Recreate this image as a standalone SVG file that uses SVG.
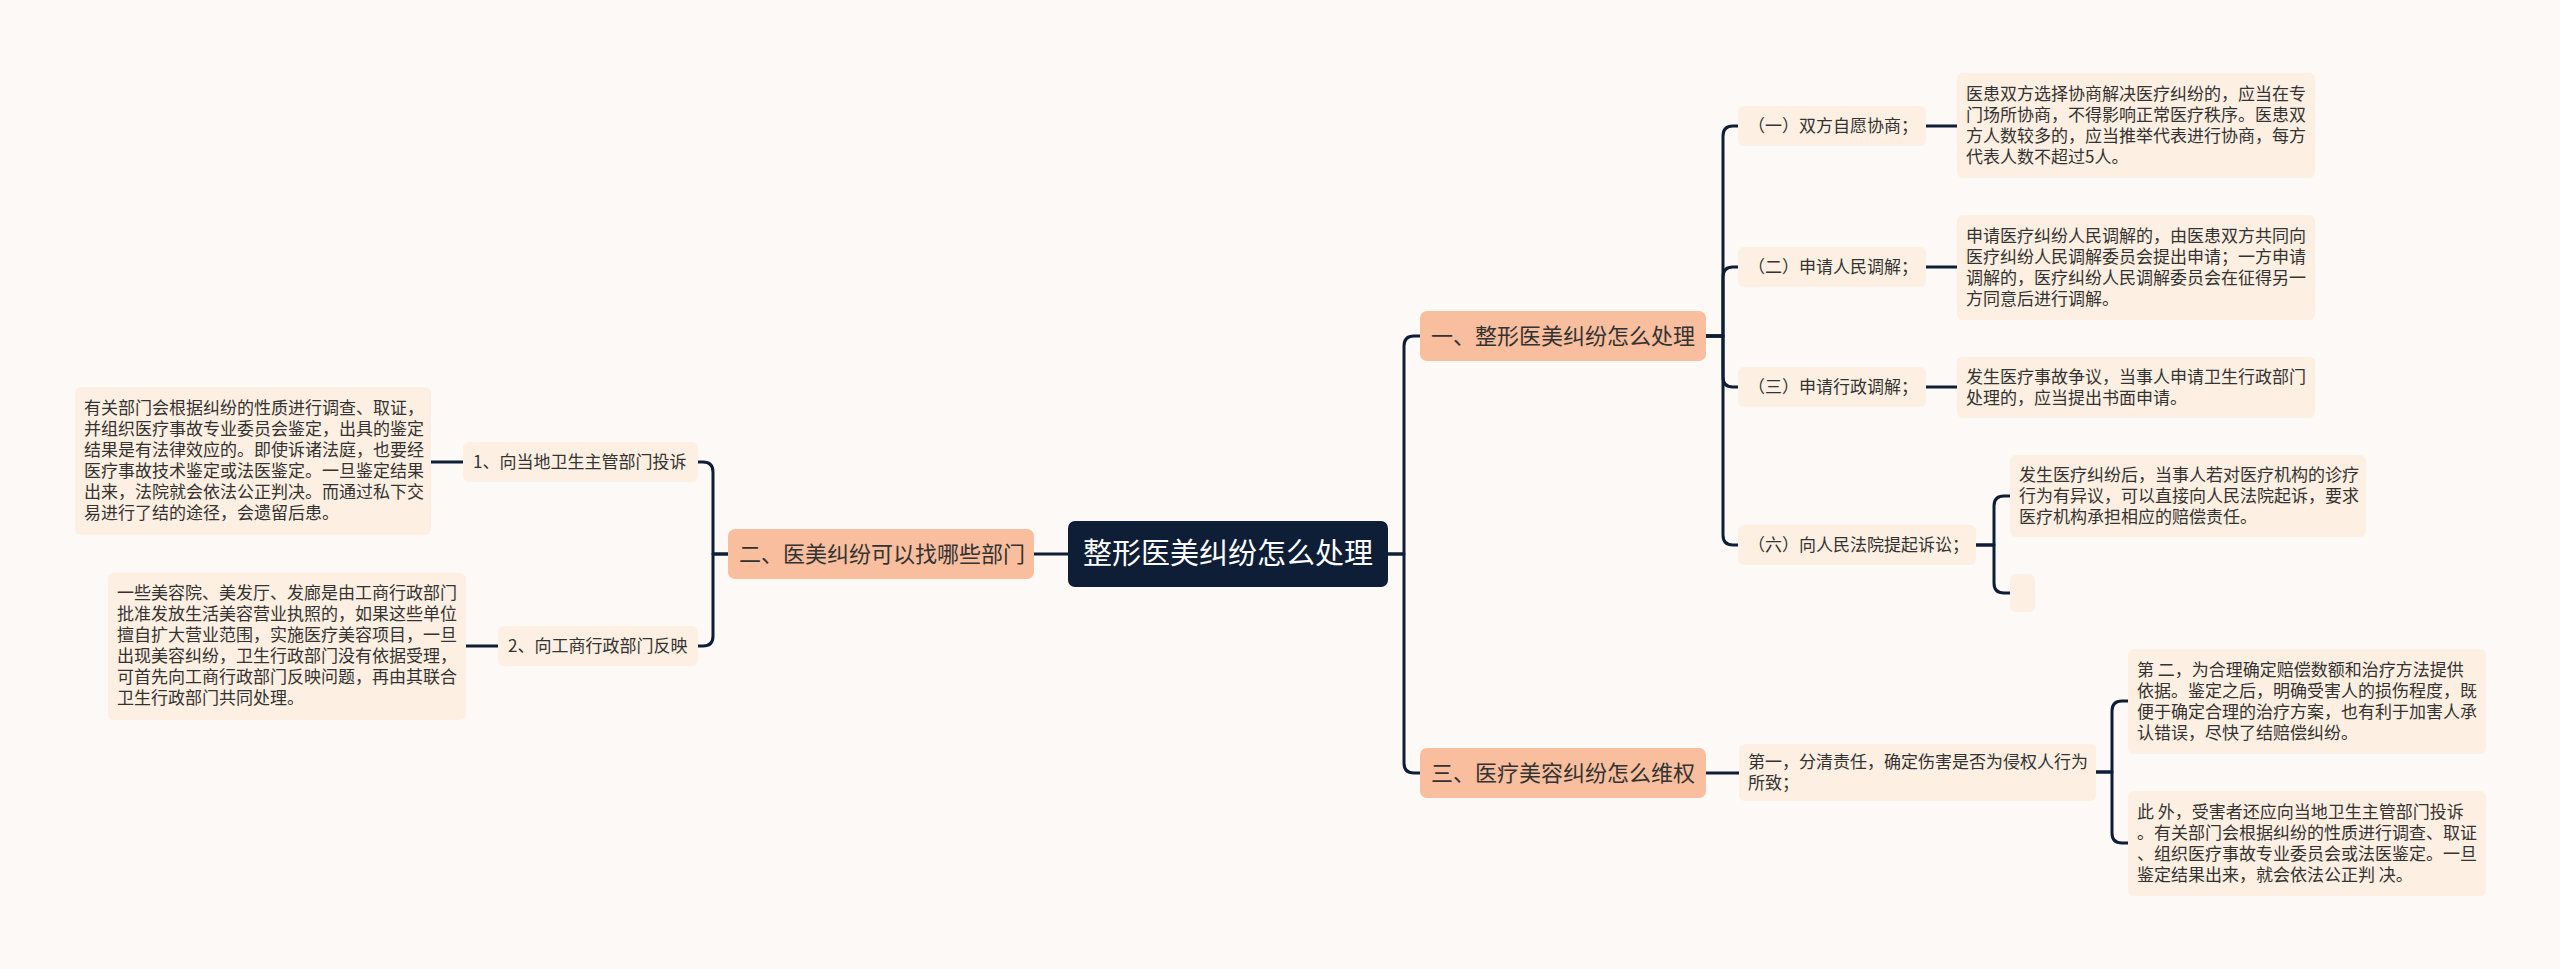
<svg xmlns="http://www.w3.org/2000/svg" width="2560" height="969" viewBox="0 0 2560 969">
<style>
text{font-family:"Noto Sans CJK SC","Noto Sans",sans-serif;fill:#333333;}
.root{fill:#0f1e37;}
.l1{fill:#f9be9d;}
.l2{fill:#fdefe1;}
.rt{font-size:29px;fill:#ffffff;}
.t1{font-size:22px;}
.t2{font-size:17px;}
.con{fill:none;stroke:#0f1e37;stroke-width:3;stroke-linecap:round;stroke-linejoin:round;}
</style>
<rect x="0" y="0" width="2560" height="969" fill="#fdf9f7"/>
<g id="connectors" class="con">
<path d="M1068 554 H1034"/>
<path d="M1388 554 H1404 V346 Q1404 336 1414 336 H1420"/>
<path d="M1388 554 H1404 V763 Q1404 773 1414 773 H1420"/>
<path d="M728 554 H713 V472 Q713 462 703 462 H698"/>
<path d="M728 554 H713 V636 Q713 646 703 646 H698"/>
<path d="M464 462 H431"/>
<path d="M498 646 H466"/>
<path d="M1706 336 H1723 V136 Q1723 126 1733 126 H1738"/>
<path d="M1706 336 H1723 V277 Q1723 267 1733 267 H1738"/>
<path d="M1706 336 H1723 V377 Q1723 387 1733 387 H1738"/>
<path d="M1706 336 H1723 V535 Q1723 545 1733 545 H1738"/>
<path d="M1926 126 H1957"/>
<path d="M1926 267 H1957"/>
<path d="M1926 387 H1957"/>
<path d="M1976 545 H1994 V506 Q1994 496 2004 496 H2010"/>
<path d="M1976 545 H1994 V583 Q1994 593 2004 593 H2010"/>
<path d="M1706 773 H1739"/>
<path d="M2096 772 H2112 V711 Q2112 701 2122 701 H2128"/>
<path d="M2096 772 H2112 V833 Q2112 843 2122 843 H2128"/>
</g>
<g id="root">
<rect class="root" x="1068" y="521" width="320" height="66" rx="7"/>
<text class="rt" x="1228" y="564" text-anchor="middle">整形医美纠纷怎么处理</text>
</g>
<g id="n1">
<rect class="l1" x="1420" y="311" width="286" height="50" rx="7"/>
<text class="t1" x="1431" y="344">一、整形医美纠纷怎么处理</text>
</g>
<g id="n2">
<rect class="l1" x="728" y="529" width="306" height="50" rx="7"/>
<text class="t1" x="739" y="562">二、医美纠纷可以找哪些部门</text>
</g>
<g id="n3">
<rect class="l1" x="1420" y="748" width="286" height="50" rx="7"/>
<text class="t1" x="1431" y="781">三、医疗美容纠纷怎么维权</text>
</g>
<g id="n1a">
<rect class="l2" x="1738" y="106" width="188" height="40" rx="6"/>
<text class="t2" x="1748" y="132">（一）双方自愿协商；</text>
</g>
<g id="n1a-d">
<rect class="l2" x="1957" y="73" width="358" height="105" rx="6"/>
<text class="t2" x="1966" y="100">医患双方选择协商解决医疗纠纷的，应当在专</text>
<text class="t2" x="1966" y="121">门场所协商，不得影响正常医疗秩序。医患双</text>
<text class="t2" x="1966" y="142">方人数较多的，应当推举代表进行协商，每方</text>
<text class="t2" x="1966" y="163">代表人数不超过5人。</text>
</g>
<g id="n1b">
<rect class="l2" x="1738" y="247" width="188" height="40" rx="6"/>
<text class="t2" x="1748" y="273">（二）申请人民调解；</text>
</g>
<g id="n1b-d">
<rect class="l2" x="1957" y="215" width="358" height="105" rx="6"/>
<text class="t2" x="1966" y="242">申请医疗纠纷人民调解的，由医患双方共同向</text>
<text class="t2" x="1966" y="263">医疗纠纷人民调解委员会提出申请；一方申请</text>
<text class="t2" x="1966" y="284">调解的，医疗纠纷人民调解委员会在征得另一</text>
<text class="t2" x="1966" y="305">方同意后进行调解。</text>
</g>
<g id="n1c">
<rect class="l2" x="1738" y="367" width="188" height="40" rx="6"/>
<text class="t2" x="1748" y="393">（三）申请行政调解；</text>
</g>
<g id="n1c-d">
<rect class="l2" x="1957" y="357" width="358" height="61" rx="6"/>
<text class="t2" x="1966" y="383">发生医疗事故争议，当事人申请卫生行政部门</text>
<text class="t2" x="1966" y="404">处理的，应当提出书面申请。</text>
</g>
<g id="n1d">
<rect class="l2" x="1738" y="525" width="238" height="40" rx="6"/>
<text class="t2" x="1748" y="551">（六）向人民法院提起诉讼；</text>
</g>
<g id="n1d-d">
<rect class="l2" x="2010" y="455" width="356" height="82" rx="6"/>
<text class="t2" x="2019" y="481">发生医疗纠纷后，当事人若对医疗机构的诊疗</text>
<text class="t2" x="2019" y="502">行为有异议，可以直接向人民法院起诉，要求</text>
<text class="t2" x="2019" y="523">医疗机构承担相应的赔偿责任。</text>
</g>
<g id="n1d-e">
<rect class="l2" x="2010" y="574" width="25" height="38" rx="6"/>
</g>
<g id="n2a">
<rect class="l2" x="463" y="442" width="235" height="40" rx="6"/>
<text class="t2" x="473" y="468">1、向当地卫生主管部门投诉</text>
</g>
<g id="n2a-d">
<rect class="l2" x="75" y="387" width="356" height="148" rx="6"/>
<text class="t2" x="84" y="414">有关部门会根据纠纷的性质进行调查、取证，</text>
<text class="t2" x="84" y="435">并组织医疗事故专业委员会鉴定，出具的鉴定</text>
<text class="t2" x="84" y="456">结果是有法律效应的。即使诉诸法庭，也要经</text>
<text class="t2" x="84" y="477">医疗事故技术鉴定或法医鉴定。一旦鉴定结果</text>
<text class="t2" x="84" y="498">出来，法院就会依法公正判决。而通过私下交</text>
<text class="t2" x="84" y="519">易进行了结的途径，会遗留后患。</text>
</g>
<g id="n2b">
<rect class="l2" x="498" y="626" width="200" height="40" rx="6"/>
<text class="t2" x="508" y="652">2、向工商行政部门反映</text>
</g>
<g id="n2b-d">
<rect class="l2" x="108" y="573" width="358" height="147" rx="6"/>
<text class="t2" x="117" y="599">一些美容院、美发厅、发廊是由工商行政部门</text>
<text class="t2" x="117" y="620">批准发放生活美容营业执照的，如果这些单位</text>
<text class="t2" x="117" y="641">擅自扩大营业范围，实施医疗美容项目，一旦</text>
<text class="t2" x="117" y="662">出现美容纠纷，卫生行政部门没有依据受理，</text>
<text class="t2" x="117" y="683">可首先向工商行政部门反映问题，再由其联合</text>
<text class="t2" x="117" y="704">卫生行政部门共同处理。</text>
</g>
<g id="n3a">
<rect class="l2" x="1739" y="744" width="357" height="57" rx="6"/>
<text class="t2" x="1748" y="768">第一，分清责任，确定伤害是否为侵权人行为</text>
<text class="t2" x="1748" y="789">所致；</text>
</g>
<g id="n3a-d1">
<rect class="l2" x="2128" y="649" width="358" height="105" rx="6"/>
<text class="t2" x="2137" y="676">第 二，为合理确定赔偿数额和治疗方法提供</text>
<text class="t2" x="2137" y="697">依据。鉴定之后，明确受害人的损伤程度，既</text>
<text class="t2" x="2137" y="718">便于确定合理的治疗方案，也有利于加害人承</text>
<text class="t2" x="2137" y="739">认错误，尽快了结赔偿纠纷。</text>
</g>
<g id="n3a-d2">
<rect class="l2" x="2128" y="791" width="358" height="105" rx="6"/>
<text class="t2" x="2137" y="818">此 外，受害者还应向当地卫生主管部门投诉</text>
<text class="t2" x="2137" y="839">。有关部门会根据纠纷的性质进行调查、取证</text>
<text class="t2" x="2137" y="860">、组织医疗事故专业委员会或法医鉴定。一旦</text>
<text class="t2" x="2137" y="881">鉴定结果出来，就会依法公正判 决。</text>
</g>
</svg>
